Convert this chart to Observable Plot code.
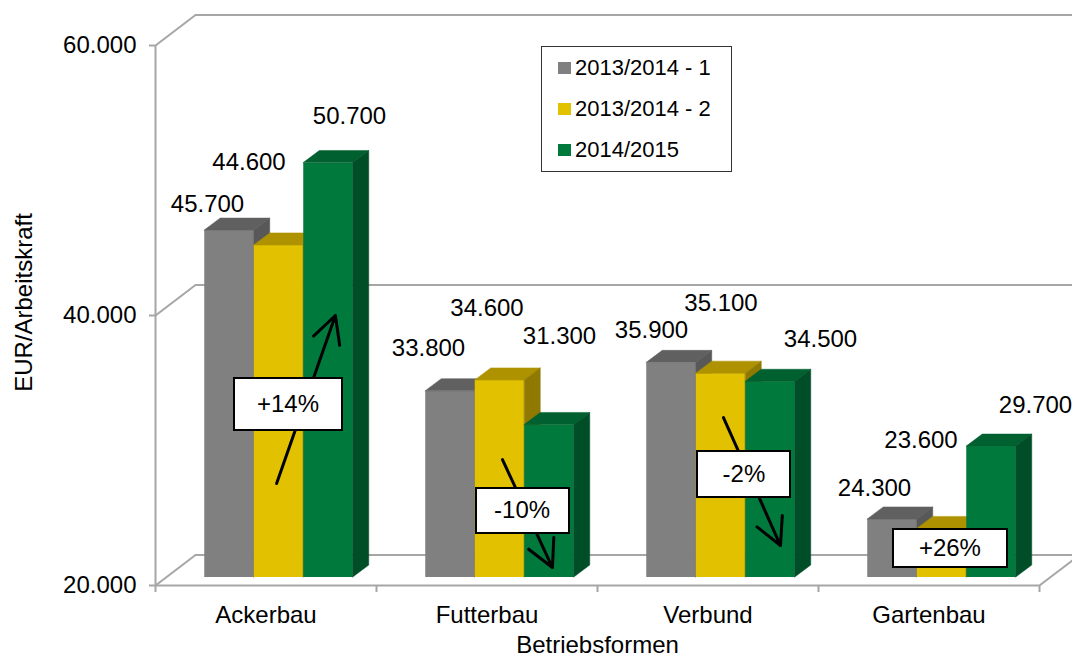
<!DOCTYPE html>
<html>
<head>
<meta charset="utf-8">
<script src="https://cdn.jsdelivr.net/npm/d3@7"></script>
<script src="https://cdn.jsdelivr.net/npm/@observablehq/plot@0.6"></script>
<style>
  html, body { margin: 0; padding: 0; background: #fff; }
  body { font-family: "Liberation Sans", Arial, sans-serif; }
  #wrap { position: relative; width: 1072px; height: 659px; overflow: hidden; }
  .box { position: absolute; background: #fff; border: 2px solid #000; box-sizing: border-box;
         display: flex; align-items: center; justify-content: center; font-size: 24px; color: #000; }
  .legend { position: absolute; left: 541px; top: 46px; width: 191px; height: 126px;
            border: 1.5px solid #333; box-sizing: border-box; background: #fff; font-size: 22px; color: #000; }
  .legend .row { position: absolute; left: 16px; display: flex; align-items: center; height: 24px; }
  .legend .sw { width: 13px; height: 12px; margin-right: 4px; }
</style>
</head>
<body>
<div id="wrap"></div>
<script>
// ---------------- data ----------------
const categories = ["Ackerbau", "Futterbau", "Verbund", "Gartenbau"];
const seriesNames = ["2013/2014 - 1", "2013/2014 - 2", "2014/2015"];
const values1 = [45700, 33800, 35900, 24300];
const values2 = [44600, 34600, 35100, 23600];
const values3 = [50700, 31300, 34500, 29700];
const yTicks = [20000, 40000, 60000];
const changeLabels = ["+14%", "-10%", "-2%", "+26%"];

// ---------------- layout / style ----------------
const W = 1072, H = 659;
const FS = 24;
const grid = "#a6a6a6";
const frontCol = ["#808080", "#e2c200", "#00793d"];
const topCol   = ["#606060", "#ae9200", "#00602f"];
const sideCol  = ["#585858", "#8f7900", "#004e28"];
const BAR_W = 0.224;               // bar width in category units
const PLANE = [13, -8];            // pixel shift of bar front plane
const DEPTH = [0.0724, 890];       // bar depth (x units, EUR)
const BACK = [0.181, 2260];        // back wall depth (x units, EUR)
// label nudges relative to the bar's top front edge (px)
const labelNudge = [
  [[-22, -26], [-22, -43], [-20, -33], [-18, -31]],
  [[-30, -83], [-13, -72], [0, -70], [-21, -89]],
  [[21, -47], [10, -89], [50, -42], [44, -41]]
];
// annotation anchors (x in category units, y in EUR)
const arrows = [
  {x1: 0.548, y1: 27550, x2: 0.814, y2: 40000},
  {x1: 1.570, y1: 29330, x2: 1.796, y2: 21330},
  {x1: 2.570, y1: 32440, x2: 2.828, y2: 22960}
];
const boxes = [
  {x: 0.602, y: 33400, w: 110, h: 54},
  {x: 1.661, y: 25550, w: 95, h: 47},
  {x: 2.665, y: 28220, w: 95, h: 48},
  {x: 3.597, y: 22740, w: 116, h: 40}
];

const de = d3.formatLocale({decimal: ",", thousands: ".", grouping: [3], currency: ["", "€"]});
const fmt = de.format(",d");

const seriesVals = [values1, values2, values3];
const rows = [];
seriesVals.forEach((vals, s) => vals.forEach((v, i) => {
  const xc = i + 0.5 + (s - 1) * BAR_W;
  rows.push({s, i, cat: categories[i], series: seriesNames[s], value: v,
             xc, x1: xc - BAR_W / 2, x2: xc + BAR_W / 2});
}));

const barMarks = [];
for (let s = 0; s < 3; s++) {
  const rs = rows.filter(d => d.s === s);
  const topPts = rs.flatMap(d => [
    {id: d.i, y: d.value, xa: d.x1, xb: d.x2},
    {id: d.i, y: d.value + DEPTH[1], xa: d.x1 + DEPTH[0], xb: d.x2 + DEPTH[0]}
  ]);
  const sidePts = rs.flatMap(d => [
    {id: d.i, x: d.x2, ya: 20000, yb: d.value},
    {id: d.i, x: d.x2 + DEPTH[0], ya: 20000 + DEPTH[1], yb: d.value + DEPTH[1]}
  ]);
  barMarks.push(
    Plot.rect(rs, {x1: "x1", x2: "x2", y1: 20000, y2: "value", fill: frontCol[s],
                   dx: PLANE[0], dy: PLANE[1]}),
    Plot.areaX(topPts, {y: "y", x1: "xa", x2: "xb", z: "id", fill: topCol[s],
                        stroke: topCol[s], strokeWidth: 0.5, dx: PLANE[0], dy: PLANE[1]}),
    Plot.areaY(sidePts, {x: "x", y1: "ya", y2: "yb", z: "id", fill: sideCol[s],
                         stroke: sideCol[s], strokeWidth: 0.5, dx: PLANE[0], dy: PLANE[1]})
  );
}

const labelMarks = rows.map(d => Plot.text([d], {
  x: "xc", y: "value", text: r => fmt(r.value),
  dx: PLANE[0] + labelNudge[d.s][d.i][0], dy: PLANE[1] + labelNudge[d.s][d.i][1],
  fontSize: FS, fill: "#000", lineAnchor: "middle"
}));

const plot = Plot.plot({
  width: W, height: H,
  marginLeft: 155, marginRight: 33, marginTop: 45, marginBottom: 74,
  style: {fontFamily: "'Liberation Sans', Arial, sans-serif", background: "transparent", overflow: "visible"},
  x: {domain: [0, 4]},
  y: {domain: [20000, 60000]},
  marks: [
    // back wall gridlines
    Plot.ruleY(yTicks, {y: d => d + BACK[1], x1: BACK[0], x2: 4.3, stroke: grid, strokeWidth: 2}),
    // side wall diagonals
    Plot.link(yTicks, {x1: 0, y1: d => d, x2: BACK[0], y2: d => d + BACK[1], stroke: grid, strokeWidth: 2}),
    // floor front and right edges
    Plot.ruleY([20000], {x1: 0, x2: 4, stroke: grid, strokeWidth: 2}),
    Plot.link([20000], {x1: 4, y1: d => d, x2: 4 + BACK[0], y2: d => d + BACK[1], stroke: grid, strokeWidth: 2}),
    // front vertical axis line
    Plot.ruleX([0], {y1: 20000, y2: 60000, stroke: grid, strokeWidth: 2}),
    ...barMarks,
    Plot.axisY({ticks: yTicks, tickFormat: fmt, tickSize: 6, tickPadding: 13, fontSize: FS,
                stroke: grid, strokeWidth: 2, fill: "#000", label: null}),
    Plot.axisX({ticks: [0, 1, 2, 3, 4], tickFormat: () => "", tickSize: 7, stroke: grid, strokeWidth: 2, label: null}),
    Plot.axisX({ticks: [0.5, 1.5, 2.5, 3.5], tickFormat: d => categories[Math.floor(d)], tickSize: 0,
                tickPadding: 20, fontSize: FS, fill: "#000", label: null}),
    Plot.text(["EUR/Arbeitskraft"], {frameAnchor: "left", rotate: -90, dx: -131, dy: -13, fontSize: FS,
                                     fill: "#000", textAnchor: "middle", lineAnchor: "middle"}),
    Plot.text(["Betriebsformen"], {frameAnchor: "bottom", dy: 60, fontSize: FS, fill: "#000",
                                   textAnchor: "middle", lineAnchor: "middle"}),
    ...labelMarks,
    Plot.arrow(arrows, {x1: "x1", y1: "y1", x2: "x2", y2: "y2", stroke: "#000", strokeWidth: 3,
                        headLength: 15, headAngle: 55})
  ]
});

const wrap = document.getElementById("wrap");
wrap.appendChild(plot);

const sx = plot.scale("x"), sy = plot.scale("y");
boxes.forEach((b, k) => {
  const el = document.createElement("div");
  el.className = "box";
  const cx = sx.apply(b.x), cy = sy.apply(b.y);
  el.style.left = (cx - b.w / 2) + "px";
  el.style.top = (cy - b.h / 2) + "px";
  el.style.width = b.w + "px";
  el.style.height = b.h + "px";
  el.textContent = changeLabels[k];
  wrap.appendChild(el);
});

const leg = document.createElement("div");
leg.className = "legend";
seriesNames.forEach((name, s) => {
  const row = document.createElement("div");
  row.className = "row";
  row.style.top = (9 + s * 41) + "px";
  const sw = document.createElement("span");
  sw.className = "sw";
  sw.style.background = frontCol[s];
  const tx = document.createElement("span");
  tx.textContent = name;
  row.appendChild(sw); row.appendChild(tx);
  leg.appendChild(row);
});
wrap.appendChild(leg);
</script>
</body>
</html>
